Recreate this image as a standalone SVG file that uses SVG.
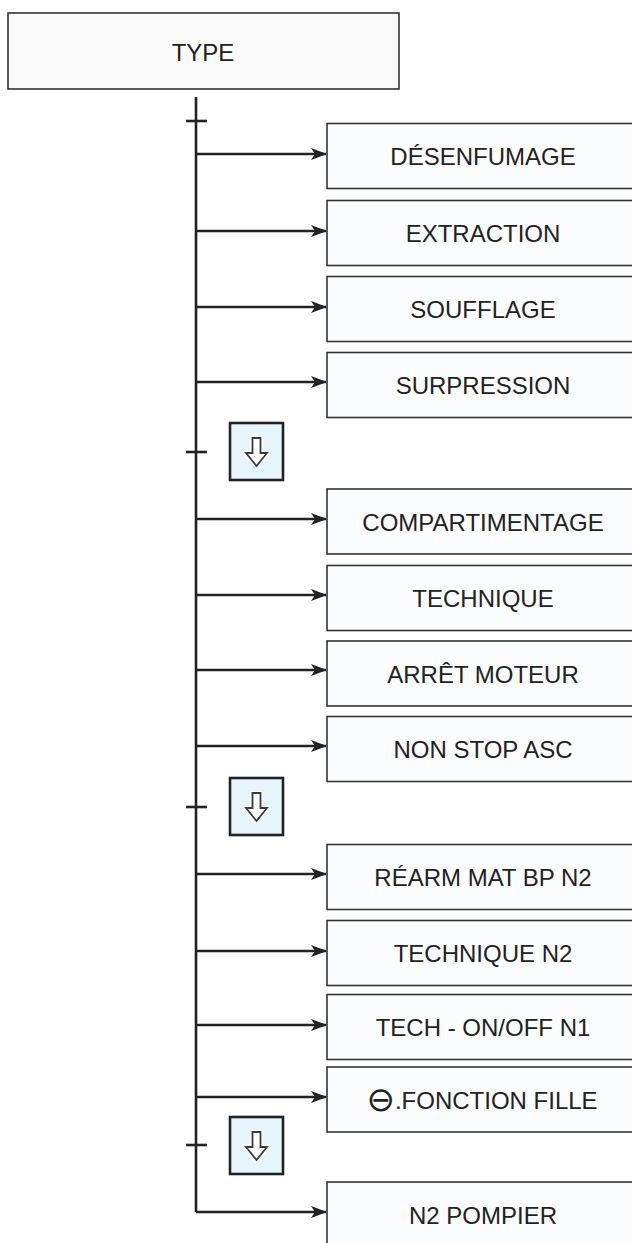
<svg xmlns="http://www.w3.org/2000/svg" width="632" height="1243" viewBox="0 0 632 1243">
<style>
.box{fill:#fbfcfe;stroke:#333;stroke-width:1.6}
.root{fill:#fafafa;stroke:#333;stroke-width:1.6}
.lbl{font-family:"Liberation Sans",Arial,"DejaVu Sans",sans-serif;font-size:24px;fill:#222;text-anchor:middle}
.sym{font-family:"DejaVu Sans",sans-serif;font-size:34px}
.bus{stroke:#222;stroke-width:2.6;fill:none}
.link{stroke:#222;stroke-width:2.4;fill:none}
.icon{fill:#e6f4fc;stroke:#222;stroke-width:2.6}
.darrow{fill:#fff;stroke:#3a3a3a;stroke-width:1.8;stroke-linejoin:miter}
.halo{fill:none;stroke:#fff;stroke-width:4.5}
</style>
<defs>
<marker id="ah" markerWidth="16" markerHeight="12" viewBox="0 0 16 12" refX="15" refY="6" orient="auto" markerUnits="userSpaceOnUse">
<path d="M0,0 L16,6 L0,12 L4,6 Z" fill="#222"/>
</marker>
<g id="downicon">
<rect class="icon" x="0" y="0" width="53" height="57"/>
<path class="halo" d="M22.5,15 H30.5 V30 H37 L26.5,43 L16,30 H22.5 Z"/>
<path class="darrow" d="M22.5,15 H30.5 V30 H37 L26.5,43 L16,30 H22.5 Z"/>
</g>
</defs>

<g id="node-type">
<rect class="root" x="8" y="13" width="391" height="76"/>
<text class="lbl" x="203" y="61">TYPE</text>
</g>

<g id="connectors">
<line class="bus" x1="196" y1="97" x2="196" y2="1212"/>
<line class="bus" x1="186" y1="121" x2="207" y2="121"/>
<line class="bus" x1="186" y1="452" x2="207" y2="452"/>
<line class="bus" x1="186" y1="807" x2="207" y2="807"/>
<line class="bus" x1="186" y1="1145" x2="207" y2="1145"/>
<line class="link" x1="196" y1="154" x2="326" y2="154" marker-end="url(#ah)"/>
<line class="link" x1="196" y1="231" x2="326" y2="231" marker-end="url(#ah)"/>
<line class="link" x1="196" y1="307" x2="326" y2="307" marker-end="url(#ah)"/>
<line class="link" x1="196" y1="382" x2="326" y2="382" marker-end="url(#ah)"/>
<line class="link" x1="196" y1="519" x2="326" y2="519" marker-end="url(#ah)"/>
<line class="link" x1="196" y1="595" x2="326" y2="595" marker-end="url(#ah)"/>
<line class="link" x1="196" y1="670" x2="326" y2="670" marker-end="url(#ah)"/>
<line class="link" x1="196" y1="746" x2="326" y2="746" marker-end="url(#ah)"/>
<line class="link" x1="196" y1="874" x2="326" y2="874" marker-end="url(#ah)"/>
<line class="link" x1="196" y1="951" x2="326" y2="951" marker-end="url(#ah)"/>
<line class="link" x1="196" y1="1025" x2="326" y2="1025" marker-end="url(#ah)"/>
<line class="link" x1="196" y1="1097" x2="326" y2="1097" marker-end="url(#ah)"/>
<path class="link" d="M196,1212 H326" marker-end="url(#ah)"/>
</g>

<g id="icon-1"><use href="#downicon" x="230" y="423"/></g>
<g id="icon-2"><use href="#downicon" x="230" y="778"/></g>
<g id="icon-3"><use href="#downicon" x="230" y="1117"/></g>

<g id="node-desenfumage"><rect class="box" x="327" y="123.5" width="310" height="65"/><text class="lbl" x="483" y="165">DÉSENFUMAGE</text></g>
<g id="node-extraction"><rect class="box" x="327" y="200.5" width="310" height="65"/><text class="lbl" x="483" y="242">EXTRACTION</text></g>
<g id="node-soufflage"><rect class="box" x="327" y="276.5" width="310" height="65"/><text class="lbl" x="483" y="318">SOUFFLAGE</text></g>
<g id="node-surpression"><rect class="box" x="327" y="352.5" width="310" height="65"/><text class="lbl" x="483" y="394">SURPRESSION</text></g>
<g id="node-compartimentage"><rect class="box" x="327" y="489" width="310" height="65"/><text class="lbl" x="483" y="531">COMPARTIMENTAGE</text></g>
<g id="node-technique"><rect class="box" x="327" y="565.5" width="310" height="65"/><text class="lbl" x="483" y="607">TECHNIQUE</text></g>
<g id="node-arret-moteur"><rect class="box" x="327" y="641" width="310" height="65"/><text class="lbl" x="483" y="683">ARRÊT MOTEUR</text></g>
<g id="node-non-stop-asc"><rect class="box" x="327" y="716.5" width="310" height="65"/><text class="lbl" x="483" y="758">NON STOP ASC</text></g>
<g id="node-rearm"><rect class="box" x="327" y="844.5" width="310" height="65"/><text class="lbl" x="483" y="886">RÉARM MAT BP N2</text></g>
<g id="node-technique-n2"><rect class="box" x="327" y="920.5" width="310" height="65"/><text class="lbl" x="483" y="962">TECHNIQUE N2</text></g>
<g id="node-tech-onoff"><rect class="box" x="327" y="994.5" width="310" height="65"/><text class="lbl" x="483" y="1036">TECH - ON/OFF N1</text></g>
<g id="node-fonction-fille"><rect class="box" x="327" y="1067" width="310" height="65"/><text class="lbl" x="482" y="1109"><tspan class="sym" dy="2">⊖</tspan><tspan dy="-2">.FONCTION FILLE</tspan></text></g>
<g id="node-n2-pompier"><rect class="box" x="327" y="1182" width="310" height="70"/><text class="lbl" x="483" y="1224">N2 POMPIER</text></g>
</svg>
